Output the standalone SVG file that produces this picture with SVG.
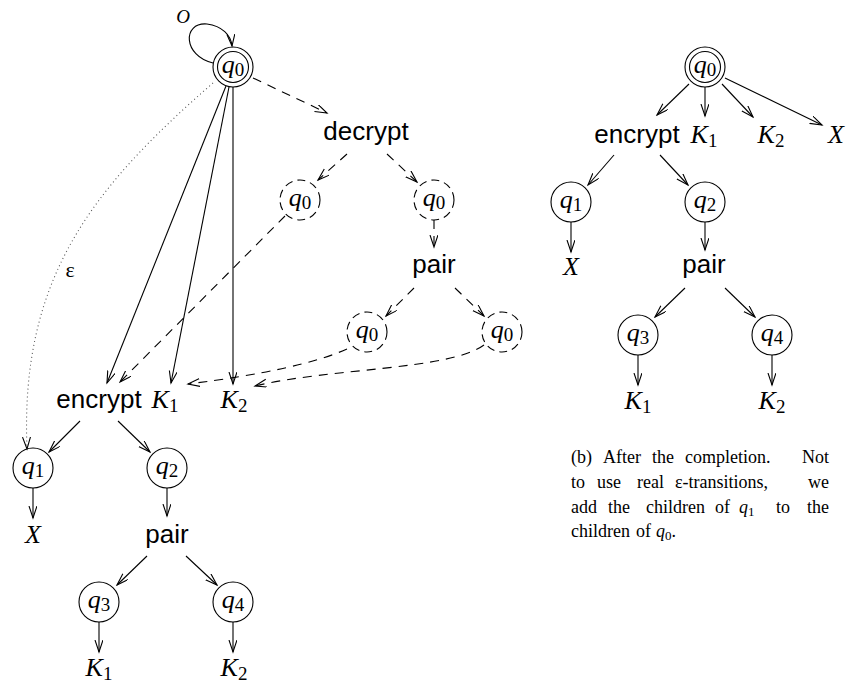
<svg xmlns="http://www.w3.org/2000/svg" width="852" height="684" viewBox="0 0 852 684">
<style>
.sans{font-family:"Liberation Sans",Arial,sans-serif;font-size:26px;fill:#000}
.math{font-family:"Liberation Serif","Times New Roman",serif;font-style:italic;font-size:26px;fill:#000}
.sub{font-style:normal;font-size:19px}
.cap{font-family:"Liberation Serif","Times New Roman",serif;font-size:18px;fill:#000}
.lbl{font-family:"Liberation Serif","Times New Roman",serif;fill:#000}
.e{fill:none;stroke:#000;stroke-width:1.1}
.d{stroke-dasharray:9 7}
.dot{stroke-dasharray:1 3;stroke:#555}
.st{fill:none;stroke:#000;stroke-width:1.1}
.dc{stroke-dasharray:8 5}
</style>
<defs>
<marker id="a" markerUnits="userSpaceOnUse" markerWidth="14" markerHeight="10" refX="12" refY="4" orient="auto">
<path d="M0,0 L12,4 L0,8" fill="none" stroke="#000" stroke-width="1.1"/>
</marker>
</defs>

<g id="connectors">
<!-- left figure -->
<path class="e" d="M213 63 C183 56,182 22,207 24 C222 26,231 35,232 46" marker-end="url(#a)"/>
<path class="e d" d="M253 78 L327 113" marker-end="url(#a)"/>
<path class="e d" d="M347 154 L318 180" marker-end="url(#a)"/>
<path class="e d" d="M387 154 L417 182" marker-end="url(#a)"/>
<path class="e d" d="M434 220 L434 247" marker-end="url(#a)"/>
<path class="e d" d="M414 288 L386 316" marker-end="url(#a)"/>
<path class="e d" d="M455 288 L484 316" marker-end="url(#a)"/>
<path class="e d" d="M285 216 L120 382" marker-end="url(#a)"/>
<path class="e d" d="M347 349 Q300 370 188 384" marker-end="url(#a)"/>
<path class="e d" d="M484 345 C450 370,330 368,255 386" marker-end="url(#a)"/>
<path class="e" d="M226 86 L107 383" marker-end="url(#a)"/>
<path class="e" d="M229 87 L171 383" marker-end="url(#a)"/>
<path class="e" d="M233 87 L233 384" marker-end="url(#a)"/>
<path class="e dot" d="M213 83 C90 190,20 280,27 449" marker-end="url(#a)"/>
<path class="e" d="M80 421 L49 452" marker-end="url(#a)"/>
<path class="e" d="M118 421 L150 452" marker-end="url(#a)"/>
<path class="e" d="M33 488 L33 518" marker-end="url(#a)"/>
<path class="e" d="M167 488 L167 516" marker-end="url(#a)"/>
<path class="e" d="M147 556 L117 585" marker-end="url(#a)"/>
<path class="e" d="M186 556 L217 585" marker-end="url(#a)"/>
<path class="e" d="M99 622 L99 652" marker-end="url(#a)"/>
<path class="e" d="M233 622 L233 652" marker-end="url(#a)"/>
<!-- right figure -->
<path class="e" d="M689 84 L657 115" marker-end="url(#a)"/>
<path class="e" d="M705 87 L705 116" marker-end="url(#a)"/>
<path class="e" d="M722 84 L753 117" marker-end="url(#a)"/>
<path class="e" d="M725 78 L822 125" marker-end="url(#a)"/>
<path class="e" d="M614 155 L588 185" marker-end="url(#a)"/>
<path class="e" d="M660 155 L688 185" marker-end="url(#a)"/>
<path class="e" d="M571 222 L571 252" marker-end="url(#a)"/>
<path class="e" d="M705 222 L705 250" marker-end="url(#a)"/>
<path class="e" d="M685 288 L655 317" marker-end="url(#a)"/>
<path class="e" d="M725 288 L755 317" marker-end="url(#a)"/>
<path class="e" d="M638 355 L638 385" marker-end="url(#a)"/>
<path class="e" d="M772 355 L772 385" marker-end="url(#a)"/>
</g>

<g id="labels">
<text class="lbl" x="183" y="23" font-size="19" font-style="italic" text-anchor="middle">O</text>
<text class="lbl" x="70" y="277" font-size="22" text-anchor="middle">ε</text>
</g>

<!-- left figure nodes -->
<g id="L_q0">
<circle class="st" cx="233" cy="67" r="20"/><circle class="st" cx="233" cy="67" r="15.5"/>
<text class="math" x="233" y="73" text-anchor="middle">q<tspan class="sub" dy="3">0</tspan></text>
</g>
<g id="L_decrypt"><text class="sans" x="366" y="140" text-anchor="middle">decrypt</text></g>
<g id="L_dq0a">
<circle class="st dc" cx="300" cy="200" r="20"/>
<text class="math" x="300" y="206" text-anchor="middle">q<tspan class="sub" dy="3">0</tspan></text>
</g>
<g id="L_dq0b">
<circle class="st dc" cx="434" cy="200" r="20"/>
<text class="math" x="434" y="206" text-anchor="middle">q<tspan class="sub" dy="3">0</tspan></text>
</g>
<g id="L_dpair"><text class="sans" x="434" y="273" text-anchor="middle">pair</text></g>
<g id="L_dq0c">
<circle class="st dc" cx="367" cy="332" r="20"/>
<text class="math" x="367" y="338" text-anchor="middle">q<tspan class="sub" dy="3">0</tspan></text>
</g>
<g id="L_dq0d">
<circle class="st dc" cx="502" cy="332" r="20"/>
<text class="math" x="502" y="338" text-anchor="middle">q<tspan class="sub" dy="3">0</tspan></text>
</g>
<g id="L_encrypt"><text class="sans" x="99" y="408" text-anchor="middle">encrypt</text></g>
<g id="L_K1"><text class="math" x="165" y="408" text-anchor="middle">K<tspan class="sub" dy="4">1</tspan></text></g>
<g id="L_K2"><text class="math" x="234" y="408" text-anchor="middle">K<tspan class="sub" dy="4">2</tspan></text></g>
<g id="L_q1">
<circle class="st" cx="33" cy="468" r="20"/>
<text class="math" x="33" y="474" text-anchor="middle">q<tspan class="sub" dy="3">1</tspan></text>
</g>
<g id="L_q2">
<circle class="st" cx="167" cy="468" r="20"/>
<text class="math" x="167" y="474" text-anchor="middle">q<tspan class="sub" dy="3">2</tspan></text>
</g>
<g id="L_X"><text class="math" x="33" y="543" text-anchor="middle">X</text></g>
<g id="L_pair"><text class="sans" x="167" y="543" text-anchor="middle">pair</text></g>
<g id="L_q3">
<circle class="st" cx="99" cy="602" r="20"/>
<text class="math" x="99" y="608" text-anchor="middle">q<tspan class="sub" dy="3">3</tspan></text>
</g>
<g id="L_q4">
<circle class="st" cx="233" cy="602" r="20"/>
<text class="math" x="233" y="608" text-anchor="middle">q<tspan class="sub" dy="3">4</tspan></text>
</g>
<g id="L_K1b"><text class="math" x="99" y="676" text-anchor="middle">K<tspan class="sub" dy="4">1</tspan></text></g>
<g id="L_K2b"><text class="math" x="234" y="676" text-anchor="middle">K<tspan class="sub" dy="4">2</tspan></text></g>

<!-- right figure nodes -->
<g id="R_q0">
<circle class="st" cx="705" cy="67" r="20"/><circle class="st" cx="705" cy="67" r="15.5"/>
<text class="math" x="705" y="73" text-anchor="middle">q<tspan class="sub" dy="3">0</tspan></text>
</g>
<g id="R_encrypt"><text class="sans" x="637" y="143" text-anchor="middle">encrypt</text></g>
<g id="R_K1"><text class="math" x="704" y="143" text-anchor="middle">K<tspan class="sub" dy="4">1</tspan></text></g>
<g id="R_K2"><text class="math" x="771" y="143" text-anchor="middle">K<tspan class="sub" dy="4">2</tspan></text></g>
<g id="R_X"><text class="math" x="836" y="143" text-anchor="middle">X</text></g>
<g id="R_q1">
<circle class="st" cx="571" cy="202" r="20"/>
<text class="math" x="571" y="208" text-anchor="middle">q<tspan class="sub" dy="3">1</tspan></text>
</g>
<g id="R_q2">
<circle class="st" cx="705" cy="202" r="20"/>
<text class="math" x="705" y="208" text-anchor="middle">q<tspan class="sub" dy="3">2</tspan></text>
</g>
<g id="R_X2"><text class="math" x="571" y="275" text-anchor="middle">X</text></g>
<g id="R_pair"><text class="sans" x="704" y="273" text-anchor="middle">pair</text></g>
<g id="R_q3">
<circle class="st" cx="638" cy="335" r="20"/>
<text class="math" x="638" y="341" text-anchor="middle">q<tspan class="sub" dy="3">3</tspan></text>
</g>
<g id="R_q4">
<circle class="st" cx="772" cy="335" r="20"/>
<text class="math" x="772" y="341" text-anchor="middle">q<tspan class="sub" dy="3">4</tspan></text>
</g>
<g id="R_K1b"><text class="math" x="638" y="409" text-anchor="middle">K<tspan class="sub" dy="4">1</tspan></text></g>
<g id="R_K2b"><text class="math" x="772" y="409" text-anchor="middle">K<tspan class="sub" dy="4">2</tspan></text></g>

<g id="caption" class="cap">
<text y="463"><tspan x="571">(b)</tspan><tspan x="603">After</tspan><tspan x="652">the</tspan><tspan x="685">completion.</tspan><tspan x="802">Not</tspan></text>
<text y="488"><tspan x="571">to</tspan><tspan x="597">use</tspan><tspan x="637">real</tspan><tspan x="675">ε-transitions,</tspan><tspan x="808">we</tspan></text>
<text y="513"><tspan x="571">add</tspan><tspan x="608">the</tspan><tspan x="646">children</tspan><tspan x="715">of</tspan><tspan x="739" font-style="italic">q</tspan><tspan font-size="13" dy="3">1</tspan><tspan x="776" dy="-3">to</tspan><tspan x="807">the</tspan></text>
<text y="537"><tspan x="571">children</tspan><tspan x="636">of</tspan><tspan x="656" font-style="italic">q</tspan><tspan font-size="13" dy="3">0</tspan><tspan dy="-3">.</tspan></text>
</g>
</svg>
